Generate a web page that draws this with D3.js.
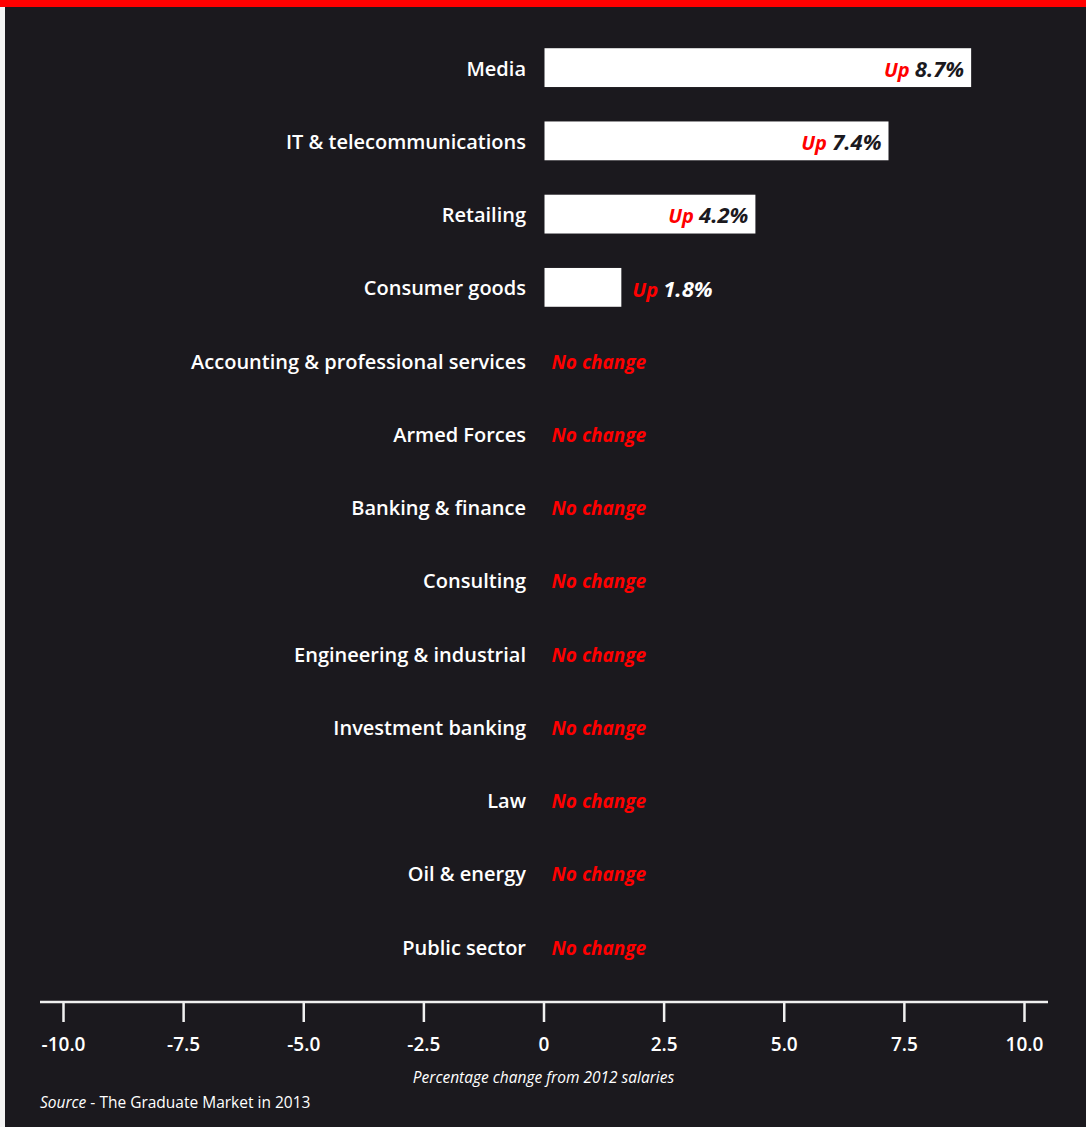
<!DOCTYPE html>
<html>
<head>
<meta charset="utf-8">
<script src="https://cdn.jsdelivr.net/npm/d3@7"></script>
<style>
  body { margin: 0; background: #1b191e; }
  svg text { font-family: "Open Sans", sans-serif; }
</style>
</head>
<body>
<div id="viz"></div>
<script>
// chart data
const categories = ["Media", "IT & telecommunications", "Retailing", "Consumer goods",
    "Accounting & professional services", "Armed Forces", "Banking & finance", "Consulting",
    "Engineering & industrial", "Investment banking", "Law", "Oil & energy", "Public sector"];
// values printed in the labels
const values = [8.7, 7.4, 4.2, 1.8, 0, 0, 0, 0, 0, 0, 0, 0, 0];
// bar lengths as drawn against the axis in the original (they don't quite match the labels)
const barValues = [8.9, 7.18, 4.41, 1.62, 0, 0, 0, 0, 0, 0, 0, 0, 0];
const tickValues = [-10, -7.5, -5, -2.5, 0, 2.5, 5, 7.5, 10];
const tickLabels = ["-10.0", "-7.5", "-5.0", "-2.5", "0", "2.5", "5.0", "7.5", "10.0"];

const width = 1086
const height = 1127
const bg = "#1b191e"
const red = "#ff0000"

var svg = d3.select("#viz")
        .append("svg")
        .attr("width", width)
        .attr("height", height);

// background, red top strip and light left edge
svg.append("rect").attr("width", width).attr("height", height).attr("fill", bg);
svg.append("rect").attr("width", width).attr("height", 7).attr("fill", red);
svg.append("rect").attr("y", 7).attr("width", 5).attr("height", height - 7).attr("fill", "#f4f4f4");

// scales
const x = d3.scaleLinear().domain([-10, 10]).range([63, 1024]);
const y = d3.scaleBand().domain(categories).range([31, 983.2])
        .paddingInner(0.47).paddingOuter(0.235);

const data = categories.map((c, i) => ({name: c, value: values[i], bar: barValues[i]}));

// category labels
svg.append("g")
    .selectAll("text")
    .data(data)
    .enter()
    .append("text")
    .attr("x", 526)
    .attr("y", d => y(d.name) + y.bandwidth() / 2 + 1)
    .attr("dy", "0.35em")
    .attr("text-anchor", "end")
    .attr("font-size", 20)
    .attr("font-weight", 600)
    .attr("fill", "#ffffff")
    .text(d => d.name);

// bars
svg.append("g")
    .selectAll("rect")
    .data(data.filter(d => d.bar > 0))
    .enter()
    .append("rect")
    .attr("x", x(0) + 1)
    .attr("y", d => y(d.name))
    .attr("width", d => x(d.bar) - x(0) - 1)
    .attr("height", y.bandwidth())
    .attr("fill", "#ffffff");

// value labels
const labels = svg.append("g")
    .selectAll("text")
    .data(data)
    .enter()
    .append("text")
    .attr("y", d => y(d.name) + y.bandwidth() / 2 + 1.5)
    .attr("dy", "0.35em")
    .attr("font-weight", 700)
    .attr("font-style", "italic")
    .attr("x", d => {
        if (d.value === 0) return x(0) + 8;
        if (d.value > 3) return x(d.bar) - 7;
        return x(d.bar) + 11;
    })
    .attr("text-anchor", d => (d.value > 3 ? "end" : "start"));

labels.filter(d => d.value === 0)
    .attr("font-size", 19)
    .attr("fill", red)
    .text("No change");

labels.filter(d => d.value > 0)
    .attr("font-size", 22)
    .each(function (d) {
        const t = d3.select(this);
        t.append("tspan").attr("fill", red).attr("font-size", 20).text("Up ");
        t.append("tspan").attr("fill", d.value > 3 ? bg : "#ffffff")
            .text(d3.format(".1f")(d.value) + "%");
    });

// x axis
const axisY = 1002;
const x_axis = d3.axisBottom(x)
    .tickValues(tickValues)
    .tickSize(20)
    .tickPadding(16)
    .tickFormat((d, i) => tickLabels[i]);

const axisG = svg.append("g")
    .attr("transform", "translate(0," + axisY + ")")
    .call(x_axis);
axisG.select(".domain").remove();
axisG.selectAll(".tick line").attr("stroke", "#f0f0f0").attr("stroke-width", 2.5);
axisG.selectAll(".tick text")
    .attr("fill", "#ffffff")
    .attr("font-size", 19)
    .attr("font-weight", 600)
    .style("font-family", "'Open Sans', sans-serif");

svg.append("line")
    .attr("x1", 40).attr("x2", 1048)
    .attr("y1", axisY).attr("y2", axisY)
    .attr("stroke", "#f0f0f0")
    .attr("stroke-width", 2.5);

// axis title
svg.append("text")
    .attr("x", x(0))
    .attr("y", 1083)
    .attr("text-anchor", "middle")
    .attr("font-size", 15.5)
    .attr("font-style", "italic")
    .attr("fill", "#ffffff")
    .text("Percentage change from 2012 salaries");

// source
const source = svg.append("text")
    .attr("x", 40)
    .attr("y", 1108)
    .attr("font-size", 15.5)
    .attr("fill", "#ffffff");
source.append("tspan").attr("font-style", "italic").text("Source");
source.append("tspan").text(" - The Graduate Market in 2013");
</script>
</body>
</html>
